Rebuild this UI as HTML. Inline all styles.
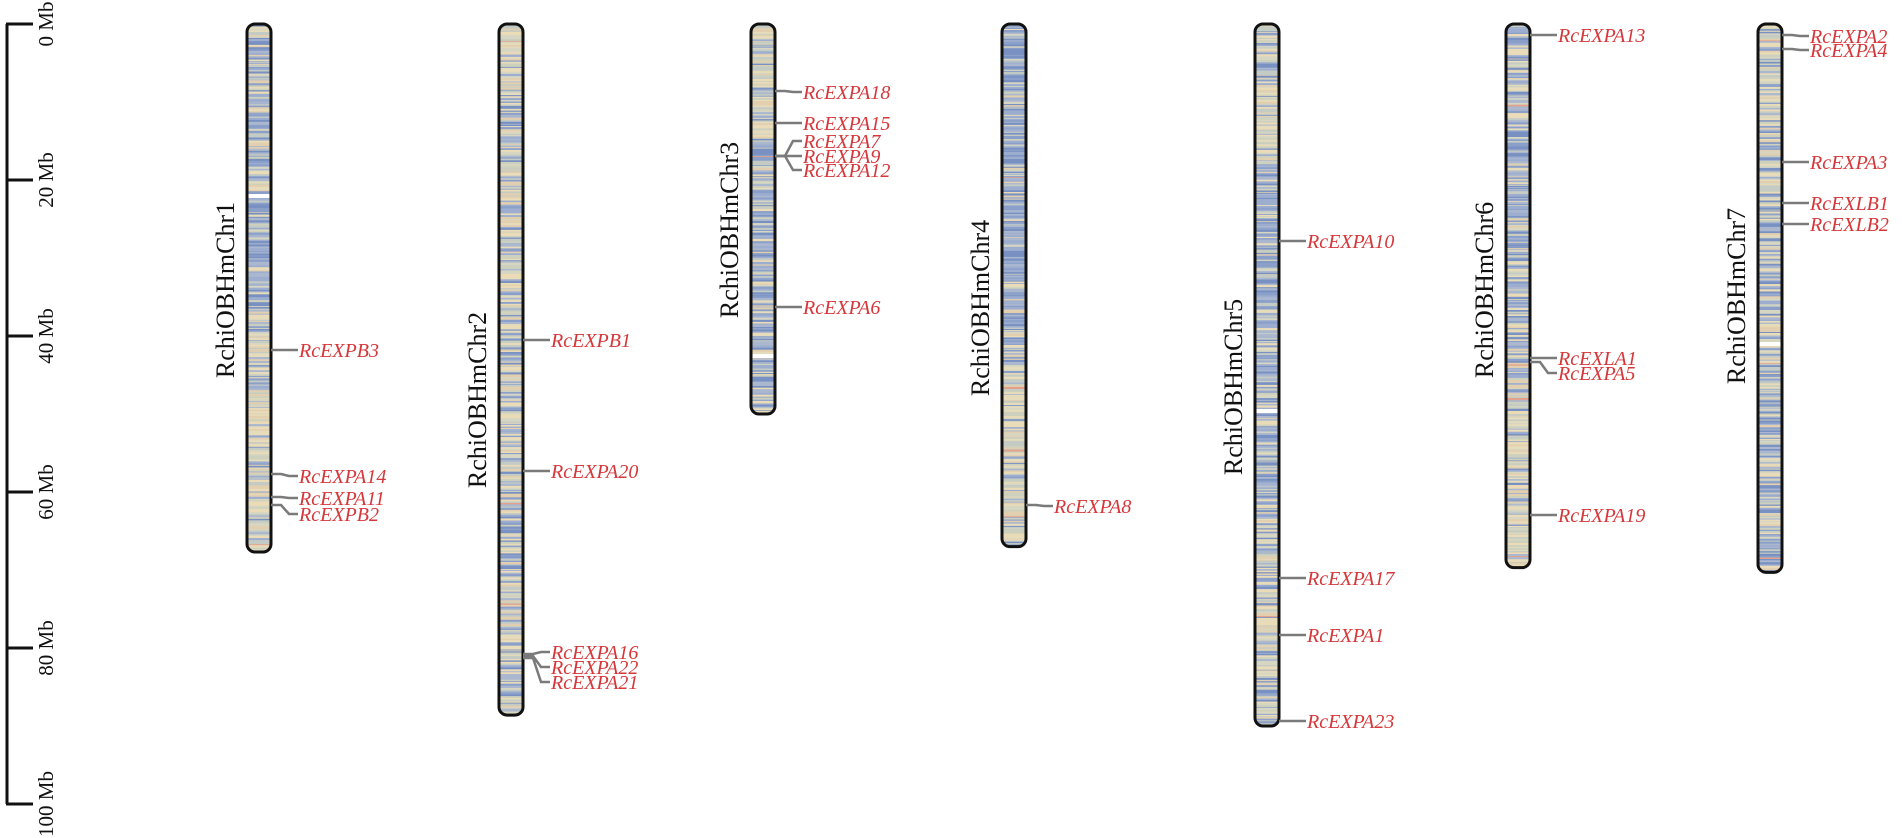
<!DOCTYPE html>
<html><head><meta charset="utf-8">
<style>
html,body{margin:0;padding:0;background:#fff;}
svg{display:block;}
.g{font-family:"Liberation Serif",serif;font-style:italic;font-size:20px;fill:#d5373a;}
.c{font-family:"Liberation Serif",serif;font-size:26px;fill:#111;}
.a{font-family:"Liberation Serif",serif;font-size:21px;fill:#111;}
.l{stroke:#7a7a7a;stroke-width:2.5;fill:none;}
</style></head>
<body>
<svg id="s" width="1902" height="838" xmlns="http://www.w3.org/2000/svg">
<g stroke="#111" stroke-width="3" fill="none">
<line x1="7" y1="24" x2="7" y2="804"/>
<line x1="6" y1="24" x2="33" y2="24"/>
<line x1="6" y1="180" x2="33" y2="180"/>
<line x1="6" y1="336" x2="33" y2="336"/>
<line x1="6" y1="492" x2="33" y2="492"/>
<line x1="6" y1="648" x2="33" y2="648"/>
<line x1="6" y1="804" x2="33" y2="804"/>
</g>
<g class="a" text-anchor="middle">
<text transform="translate(53,24) rotate(-90)">0 Mb</text>
<text transform="translate(53,180) rotate(-90)">20 Mb</text>
<text transform="translate(53,336) rotate(-90)">40 Mb</text>
<text transform="translate(53,492) rotate(-90)">60 Mb</text>
<text transform="translate(53,648) rotate(-90)">80 Mb</text>
<text transform="translate(53,804) rotate(-90)">100 Mb</text>
</g>
<g id="chrs"></g>
<g class="c" text-anchor="middle">
<text transform="translate(234,290) rotate(-90)">RchiOBHmChr1</text>
<text transform="translate(486,400) rotate(-90)">RchiOBHmChr2</text>
<text transform="translate(738,230) rotate(-90)">RchiOBHmChr3</text>
<text transform="translate(989,308) rotate(-90)">RchiOBHmChr4</text>
<text transform="translate(1242,387) rotate(-90)">RchiOBHmChr5</text>
<text transform="translate(1493,290) rotate(-90)">RchiOBHmChr6</text>
<text transform="translate(1745,296) rotate(-90)">RchiOBHmChr7</text>
</g>
<g id="labels"></g>
</svg>
<script>
var seed=7;function rnd(){seed=(seed*16807)%2147483647;return seed/2147483647;}
var top0=24,ppm=7.8,W=24;
var chrs=[
 {x:247,len:67.7,p:function(t){return t<0.55?0.65:0.2;},gaps:[194]},
 {x:499,len:88.6,p:function(t){return t<0.1?0.2:0.35;},gaps:[]},
 {x:751,len:50,p:function(t){return t<0.3?0.15:0.6;},gaps:[354]},
 {x:1002,len:67,p:function(t){return t<0.65?0.75:0.2;},gaps:[]},
 {x:1255,len:90,p:function(t){return t<0.2?0.35:(t<0.7?0.65:0.35);},gaps:[409]},
 {x:1506,len:69.7,p:function(t){return t<0.15?0.45:(t<0.65?0.65:0.2);},gaps:[]},
 {x:1758,len:70.3,p:function(t){return t<0.3?0.25:0.55;},gaps:[342]}
];
var blues=["#8a9fc9","#7890c2","#9cadcf","#aab7cf"],beiges=["#e6dcbb","#d6d6c2","#cdd0bd","#ebdcb7","#c4cbc4","#e2cfb0"];
var out="";
chrs.forEach(function(c){
 var h=c.len*ppm,y=top0;
 out+='<rect x="'+c.x+'" y="'+top0+'" width="'+W+'" height="'+h+'" rx="8" fill="#ccd0bf"/>';
 out+='<clipPath id="cp'+c.x+'"><rect x="'+c.x+'" y="'+top0+'" width="'+W+'" height="'+h+'" rx="8"/></clipPath><g clip-path="url(#cp'+c.x+')">';
 while(y<top0+h){var sh=0.7+rnd()*1.6;var t=(y-top0)/h;var col;
  if(rnd()<c.p(t)) col=blues[Math.floor(rnd()*4)]; else {col=beiges[Math.floor(rnd()*6)]; if(rnd()<0.012) col="#e3a08a";}
  out+='<rect x="'+c.x+'" y="'+y.toFixed(1)+'" width="'+W+'" height="'+(sh+0.3).toFixed(1)+'" fill="'+col+'"/>';y+=sh;}
 c.gaps.forEach(function(g){out+='<rect x="'+c.x+'" y="'+g+'" width="'+W+'" height="4" fill="#fff"/>';});
 out+='</g><rect x="'+c.x+'" y="'+top0+'" width="'+W+'" height="'+h+'" rx="8" fill="none" stroke="#111" stroke-width="3"/>';
});
document.getElementById("chrs").innerHTML=out;
var L=[
[0,350,350,"RcEXPB3"],[0,474,476,"RcEXPA14"],[0,497,498,"RcEXPA11"],[0,505,514,"RcEXPB2"],
[1,340,340,"RcEXPB1"],[1,471,471,"RcEXPA20"],[1,654,652,"RcEXPA16"],[1,656,667,"RcEXPA22"],[1,658,682,"RcEXPA21"],
[2,91,92,"RcEXPA18"],[2,123,123,"RcEXPA15"],[2,156,141,"RcEXPA7"],[2,156,156,"RcEXPA9"],[2,156,170,"RcEXPA12"],[2,307,307,"RcEXPA6"],
[3,505,506,"RcEXPA8"],
[4,241,241,"RcEXPA10"],[4,578,578,"RcEXPA17"],[4,635,635,"RcEXPA1"],[4,721,721,"RcEXPA23"],
[5,35,35,"RcEXPA13"],[5,358,358,"RcEXLA1"],[5,362,373,"RcEXPA5"],[5,515,515,"RcEXPA19"],
[6,35,36,"RcEXPA2"],[6,49,50,"RcEXPA4"],[6,162,162,"RcEXPA3"],[6,203,203,"RcEXLB1"],[6,224,224,"RcEXLB2"]
];
var o="";
L.forEach(function(a){var x0=chrs[a[0]].x+W,x1=x0+10,x2=x0+27;
 o+='<polyline class="l" points="'+x0+','+a[1]+' '+x1+','+a[1]+' '+(x1+8)+','+a[2]+' '+x2+','+a[2]+'"/>';
 o+='<text class="g" x="'+(x2+1)+'" y="'+(a[2]+7)+'">'+a[3]+'</text>';});
document.getElementById("labels").innerHTML=o;
</script>
</body></html>
